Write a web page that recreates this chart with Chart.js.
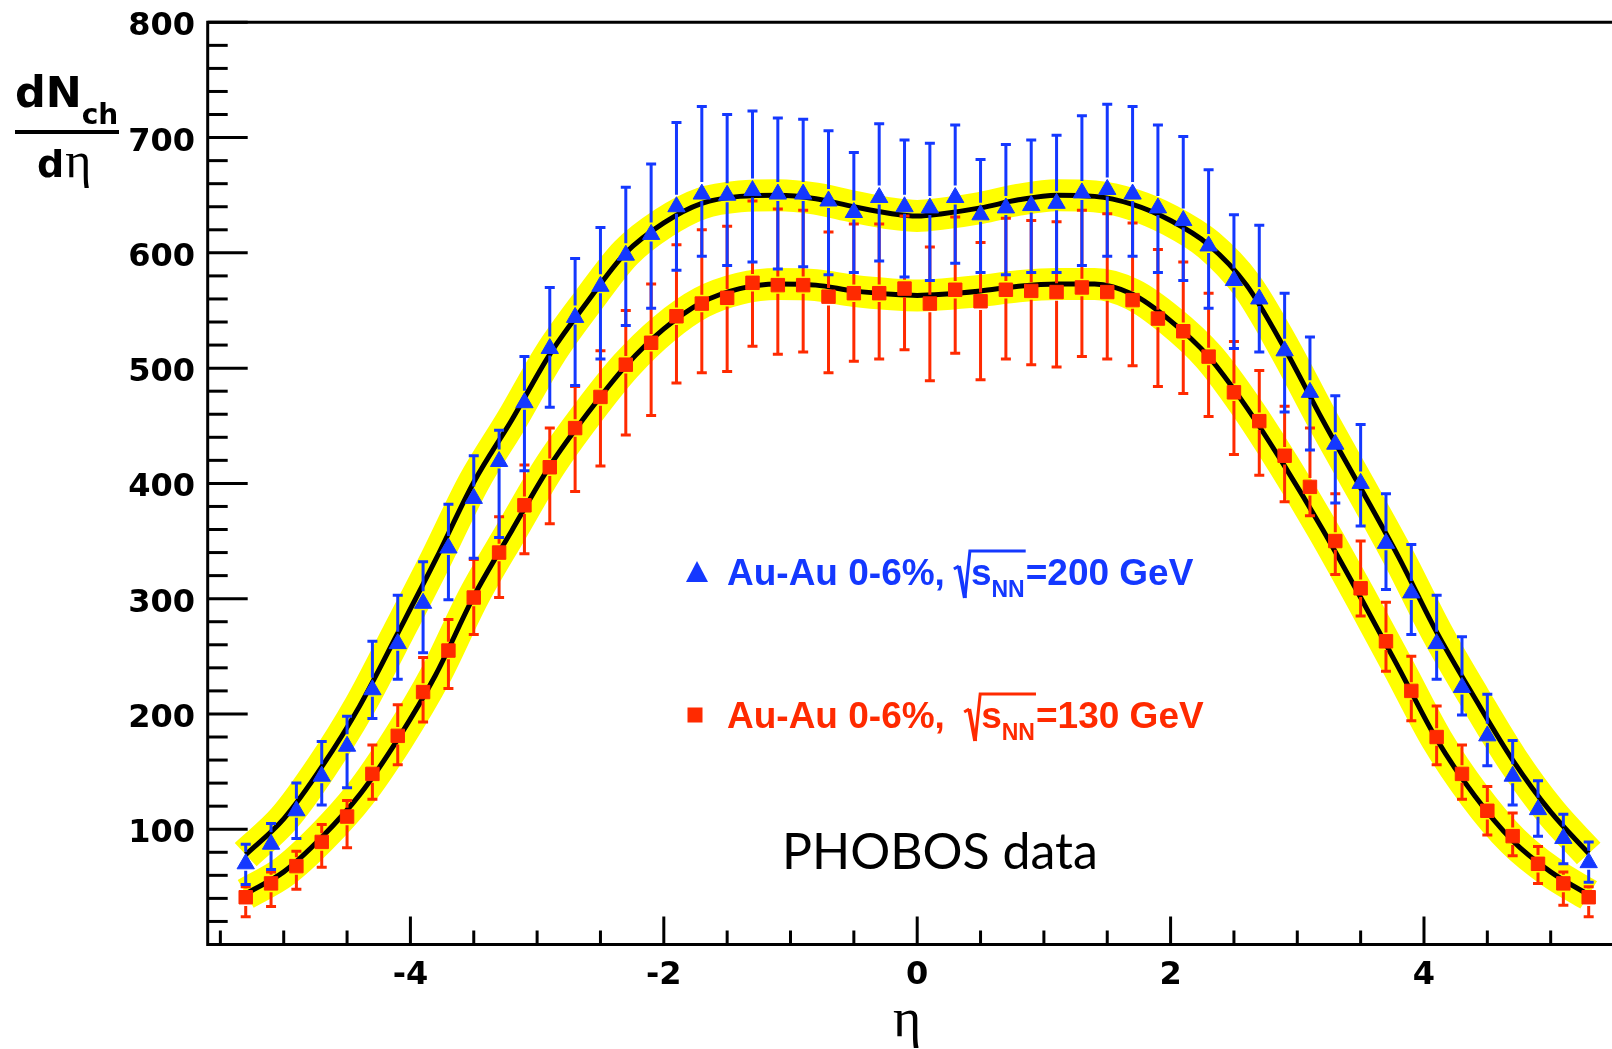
<!DOCTYPE html>
<html>
<head>
<meta charset="utf-8">
<script src="https://cdn.jsdelivr.net/npm/chart.js@4.4.1/dist/chart.umd.min.js"></script>
<style>
  html, body { margin: 0; padding: 0; background: #fff; }
  canvas { display: block; }
</style>
</head>
<body>
<canvas id="grafico" width="1612" height="1049"></canvas>
<script>
// pseudorapidity bins of the data points
const eta = [-5.3, -5.1, -4.9, -4.7, -4.5, -4.3, -4.1, -3.9, -3.7, -3.5, -3.3, -3.1, -2.9, -2.7, -2.5, -2.3, -2.1, -1.9, -1.7, -1.5, -1.3, -1.1, -0.9, -0.7, -0.5, -0.3, -0.1,
             0.1, 0.3, 0.5, 0.7, 0.9, 1.1, 1.3, 1.5, 1.7, 1.9, 2.1, 2.3, 2.5, 2.7, 2.9, 3.1, 3.3, 3.5, 3.7, 3.9, 4.1, 4.3, 4.5, 4.7, 4.9, 5.1, 5.3];

// 200 GeV (triangles)
const dndeta200 = [70, 87, 116, 146, 172, 221, 261, 296, 344, 387, 419, 470, 517, 544, 571, 598, 616, 640, 651, 650, 654, 651, 651, 645, 635, 648, 640,
                   639, 648, 633, 639, 641, 643, 652, 655, 651, 639, 628, 606, 576, 560, 515, 479, 434, 400, 348, 305, 261, 223, 181, 146, 117, 92, 71];
const errUp200 = [17, 18, 24, 30, 26, 42, 42, 36, 38, 37, 27, 40, 53, 51, 51, 59, 61, 73, 76, 70, 69, 66, 65, 61, 52, 64, 58,
                  56, 63, 48, 55, 57, 59, 67, 74, 76, 72, 73, 66, 57, 64, 50, 48, 42, 51, 43, 42, 42, 44, 36, 31, 25, 21, 18];
const errDn200 = [18, 22, 24, 25, 36, 25, 31, 43, 45, 52, 66, 59, 51, 59, 63, 61, 64, 55, 54, 61, 62, 65, 63, 64, 52, 55, 61,
                  63, 57, 50, 58, 58, 60, 63, 58, 54, 56, 52, 54, 59, 46, 53, 50, 51, 37, 40, 36, 31, 24, 26, 25, 23, 22, 17];

// 130 GeV (squares)
const dndeta130 = [41, 53, 68, 89, 111, 148, 181, 219, 255, 301, 340, 381, 414, 448, 475, 503, 522, 545, 556, 561, 574, 572, 572, 562, 565, 565, 569,
                   556, 568, 558, 568, 567, 566, 570, 566, 559, 543, 532, 510, 479, 454, 424, 397, 350, 309, 263, 220, 180, 148, 116, 94, 70, 53, 41];
const errUp130 = [9, 10, 13, 15, 14, 25, 27, 30, 27, 33, 31, 35, 34, 36, 40, 47, 51, 62, 64, 62, 71, 66, 65, 56, 60, 60, 63,
                  49, 63, 51, 62, 61, 61, 67, 68, 67, 60, 60, 55, 44, 44, 43, 51, 41, 41, 34, 30, 27, 25, 21, 20, 15, 10, 9];
const errDn130 = [17, 20, 20, 22, 27, 22, 25, 26, 33, 32, 39, 42, 49, 55, 60, 61, 63, 58, 60, 64, 55, 60, 58, 66, 59, 57, 53,
                  67, 55, 68, 60, 64, 65, 60, 58, 57, 59, 54, 52, 54, 47, 40, 25, 29, 24, 26, 26, 24, 22, 21, 17, 17, 19, 17];

// fit curves (black line on yellow band)
const fitEta = [-5.3, -5.0, -4.7, -4.4, -4.1, -3.8, -3.5, -3.2, -2.9, -2.6, -2.3, -2.0, -1.7, -1.4, -1.1, -0.8, -0.5, -0.2, 0,
                0.2, 0.5, 0.8, 1.1, 1.4, 1.7, 2.0, 2.3, 2.6, 2.9, 3.2, 3.5, 3.8, 4.1, 4.4, 4.7, 5.0, 5.3];
const fit200 = [78, 109, 154, 207, 270, 334, 401, 455, 512, 558, 600, 626, 643, 649, 650, 647, 640, 634, 632,
                634, 639, 646, 650, 649, 642, 628, 607, 572, 517, 455, 396, 336, 271, 214, 160, 115, 79];
const fit130 = [44, 63, 93, 130, 178, 234, 302, 359, 415, 461, 502, 534, 557, 569, 573, 572, 567, 564, 563,
                564, 567, 571, 573, 573, 564, 541, 510, 466, 415, 360, 301, 240, 178, 129, 90, 63, 43];

const xTickLabels = [-4, -2, 0, 2, 4];
const yTickLabels = [100, 200, 300, 400, 500, 600, 700, 800];
const legendPrefix = ['Au-Au 0-6%,', 'Au-Au 0-6%, '];
const legendEnergy = ['=200 GeV', '=130 GeV'];

const AZUL = '#1438ff';
const ROJO = '#ff2a00';
const AMARILLO = '#ffff00';
const SANS = '"Liberation Sans", Arial, Helvetica, sans-serif';
const ANCHA = '"DejaVu Sans", Verdana, sans-serif';

const puntos = (xs, ys) => xs.map((x, i) => ({ x: x, y: ys[i] }));

// error bars, drawn just before the marker dataset they belong to
const barrasError = {
    id: 'barrasError',
    beforeDatasetDraw(chart, args) {
        const ds = chart.data.datasets[args.index];
        if (!ds.errUp) return;
        const { ctx, scales: { x: sx, y: sy } } = chart;
        const r = ds.pointRadius;
        const gapUp = ds.pointStyle === 'triangle' ? r + 2 : r * 0.71 + 2;
        const gapDn = ds.pointStyle === 'triangle' ? r / 2 + 2 : r * 0.71 + 2;
        ctx.save();
        ctx.strokeStyle = ds.borderColor;
        ctx.lineWidth = 3;
        ds.data.forEach((p, i) => {
            const px = sx.getPixelForValue(p.x);
            const py = sy.getPixelForValue(p.y);
            const top = sy.getPixelForValue(p.y + ds.errUp[i]);
            const bot = sy.getPixelForValue(p.y - ds.errDn[i]);
            ctx.beginPath();
            if (py - gapUp > top) { ctx.moveTo(px, top); ctx.lineTo(px, py - gapUp); }
            if (py + gapDn < bot) { ctx.moveTo(px, py + gapDn); ctx.lineTo(px, bot); }
            ctx.moveTo(px - 5, top); ctx.lineTo(px + 5, top);
            ctx.moveTo(px - 5, bot); ctx.lineTo(px + 5, bot);
            ctx.stroke();
        });
        ctx.restore();
    }
};

function linea(ctx, x1, y1, x2, y2) {
    ctx.beginPath();
    ctx.moveTo(x1, y1);
    ctx.lineTo(x2, y2);
    ctx.stroke();
}

function etiquetaEnergia(ctx, x, base, color, prefijo, energia) {
    ctx.fillStyle = color;
    ctx.strokeStyle = color;
    ctx.textAlign = 'left';
    ctx.textBaseline = 'alphabetic';
    ctx.font = 'bold 37px ' + SANS;
    ctx.fillText(prefijo, x, base);
    const x0 = x + ctx.measureText(prefijo).width + 9;
    const xs = x0 + 17;
    const ws = ctx.measureText('s').width;
    ctx.font = 'bold 23px ' + SANS;
    const wNN = ctx.measureText('NN').width;
    const xFin = xs + ws + wNN + 1;
    // radical sign with overbar
    ctx.lineJoin = 'miter';
    ctx.lineWidth = 3;
    ctx.beginPath();
    ctx.moveTo(x0, base - 16);
    ctx.lineTo(x0 + 5, base - 19);
    ctx.stroke();
    ctx.lineWidth = 4;
    ctx.beginPath();
    ctx.moveTo(x0 + 5, base - 19);
    ctx.lineTo(x0 + 11, base + 13);
    ctx.stroke();
    ctx.lineWidth = 3;
    ctx.beginPath();
    ctx.moveTo(x0 + 11, base + 13);
    ctx.lineTo(x0 + 16, base - 34);
    ctx.lineTo(xFin, base - 34);
    ctx.stroke();
    ctx.font = 'bold 37px ' + SANS;
    ctx.fillText('s', xs, base);
    ctx.font = 'bold 23px ' + SANS;
    ctx.fillText('NN', xs + ws, base + 12);
    ctx.font = 'bold 37px ' + SANS;
    ctx.fillText(energia, xFin, base);
}

// frame, inner ticks, labels and titles
const marcoTextos = {
    id: 'marcoTextos',
    afterDraw(chart) {
        const { ctx, chartArea: a, scales: { x: sx, y: sy } } = chart;
        ctx.save();
        ctx.strokeStyle = '#000';
        ctx.fillStyle = '#000';
        ctx.lineWidth = 3;
        ctx.lineCap = 'butt';
        ctx.beginPath();
        ctx.moveTo(a.right + 2, a.top);
        ctx.lineTo(a.left, a.top);
        ctx.lineTo(a.left, a.bottom);
        ctx.lineTo(a.right + 2, a.bottom);
        ctx.stroke();

        for (let v = 0; v <= 800; v += 20) {
            const py = sy.getPixelForValue(v);
            linea(ctx, a.left, py, a.left + (v % 100 === 0 ? 40 : 20), py);
        }
        for (let k = -12; k <= 12; k++) {
            const v = k * 0.5;
            if (v < sx.min || v > sx.max) continue;
            const px = sx.getPixelForValue(v);
            linea(ctx, px, a.bottom, px, a.bottom - (v % 2 === 0 ? 28 : 14));
        }

        ctx.font = 'bold 32px ' + ANCHA;
        ctx.textAlign = 'right';
        ctx.textBaseline = 'alphabetic';
        yTickLabels.forEach(v => ctx.fillText(String(v), 195, sy.getPixelForValue(v) + 13));
        ctx.textAlign = 'center';
        xTickLabels.forEach(v => ctx.fillText(String(v), sx.getPixelForValue(v), 984));

        // x title
        ctx.font = '54px "Liberation Serif", "Times New Roman", serif';
        ctx.fillText('η', 907, 1036);

        // y title: dN_ch / dη
        ctx.textAlign = 'left';
        ctx.font = 'bold 43px ' + ANCHA;
        ctx.fillText('dN', 15, 107);
        const wdN = ctx.measureText('dN').width;
        ctx.font = 'bold 28px ' + ANCHA;
        ctx.fillText('ch', 15 + wdN, 124);
        ctx.lineWidth = 4;
        linea(ctx, 15, 132, 119, 132);
        ctx.font = 'bold 38px ' + ANCHA;
        ctx.fillText('d', 37, 177);
        const wd = ctx.measureText('d').width;
        ctx.font = '50px "Liberation Serif", "Times New Roman", serif';
        ctx.fillText('η', 37 + wd + 1, 177);

        // legend markers
        ctx.fillStyle = AZUL;
        ctx.beginPath();
        ctx.moveTo(697, 561);
        ctx.lineTo(708, 582);
        ctx.lineTo(686, 582);
        ctx.closePath();
        ctx.fill();
        ctx.fillStyle = ROJO;
        ctx.fillRect(687.5, 707.5, 15, 15);

        etiquetaEnergia(ctx, 727, 585, AZUL, legendPrefix[0], legendEnergy[0]);
        etiquetaEnergia(ctx, 727, 728, ROJO, legendPrefix[1], legendEnergy[1]);

        ctx.fillStyle = '#000';
        ctx.font = '50px Lato, "Open Sans", sans-serif';
        ctx.textAlign = 'left';
        ctx.fillText('PHOBOS data', 782, 869);
        ctx.restore();
    }
};

const curva = (ys, color, ancho, orden) => ({
    data: puntos(fitEta, ys),
    showLine: true,
    borderColor: color,
    borderWidth: ancho,
    borderCapStyle: 'butt',
    borderJoinStyle: 'round',
    pointRadius: 0,
    cubicInterpolationMode: 'monotone',
    fill: false,
    order: orden
});

const ctx = document.getElementById('grafico').getContext('2d');
new Chart(ctx, {
    type: 'scatter',
    data: {
        datasets: [
            {
                label: 'Au-Au 0-6%, 200 GeV',
                data: puntos(eta, dndeta200),
                errUp: errUp200,
                errDn: errDn200,
                pointStyle: 'triangle',
                pointRadius: 10,
                backgroundColor: AZUL,
                borderColor: AZUL,
                pointBorderWidth: 1,
                showLine: false,
                order: 0
            },
            {
                label: 'Au-Au 0-6%, 130 GeV',
                data: puntos(eta, dndeta130),
                errUp: errUp130,
                errDn: errDn130,
                pointStyle: 'rect',
                pointRadius: 9.5,
                backgroundColor: ROJO,
                borderColor: ROJO,
                pointBorderWidth: 1,
                showLine: false,
                order: 1
            },
            curva(fit200, '#000', 5, 2),
            curva(fit130, '#000', 5, 3),
            curva(fit200, AMARILLO, 32, 4),
            curva(fit130, AMARILLO, 32, 5)
        ]
    },
    options: {
        responsive: false,
        animation: false,
        devicePixelRatio: 1,
        layout: {
            autoPadding: false,
            padding: { top: 22.3, right: 0, bottom: 104.5, left: 207.7 }
        },
        scales: {
            x: {
                type: 'linear',
                display: false,
                min: -5.6,
                max: 5.484
            },
            y: {
                type: 'linear',
                display: false,
                min: 0,
                max: 800
            }
        },
        plugins: {
            legend: { display: false },
            tooltip: { enabled: false },
            title: { display: false }
        }
    },
    plugins: [barrasError, marcoTextos]
});
</script>
</body>
</html>
